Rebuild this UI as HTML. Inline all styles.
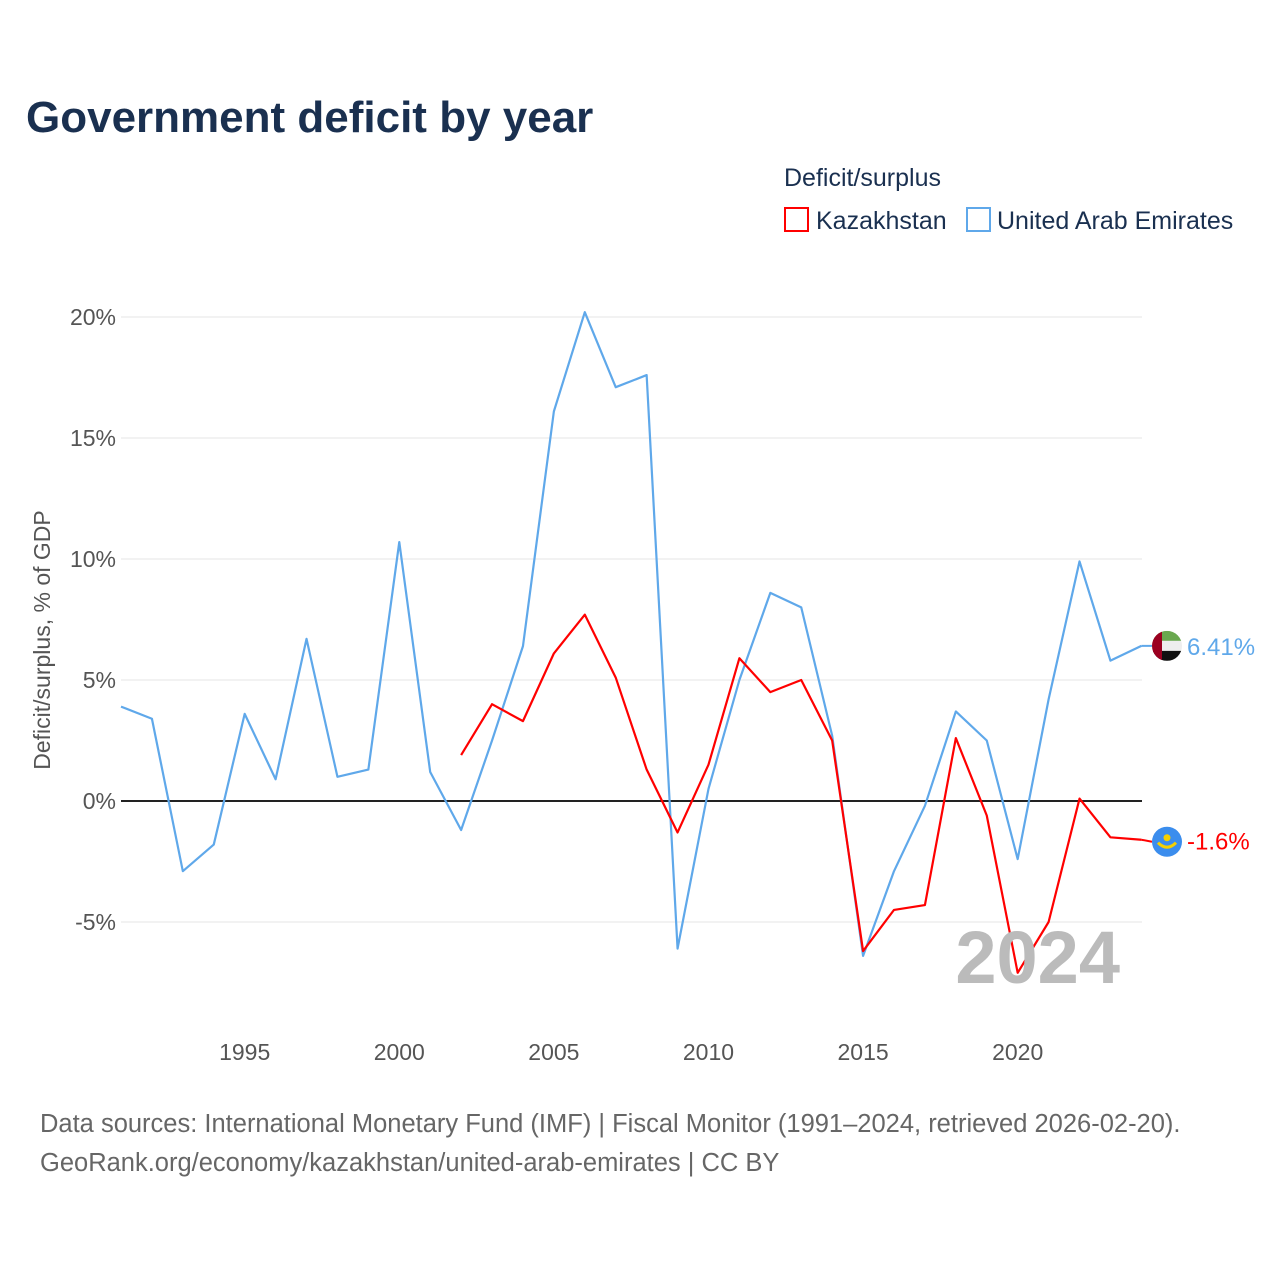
<!DOCTYPE html>
<html><head><meta charset="utf-8"><style>
body{margin:0;background:#fff;font-family:"Liberation Sans",sans-serif;}
</style></head><body>
<svg id="c" width="1280" height="1280" xmlns="http://www.w3.org/2000/svg">
<text x="26" y="132" font-size="44" font-weight="bold" fill="#1a3050">Government deficit by year</text>
<text x="784" y="186" font-size="25" fill="#1a3050">Deficit/surplus</text>
<g><rect x="785" y="208" width="23" height="23" fill="none" stroke="#ff0000" stroke-width="2"/><text x="816" y="229" font-size="25" fill="#1a3050">Kazakhstan</text></g>
<g><rect x="967" y="208" width="23" height="23" fill="none" stroke="#5fa8ea" stroke-width="2"/><text x="997" y="229" font-size="25" fill="#1a3050">United Arab Emirates</text></g>
<text transform="translate(50,640) rotate(-90)" text-anchor="middle" font-size="23" fill="#555">Deficit/surplus, % of GDP</text>
<g id="grid"></g><g id="series"></g>
<text x="1120" y="983" text-anchor="end" font-size="74" font-weight="bold" fill="#bbb">2024</text>
<text x="40" y="1132" font-size="25.5" fill="#666">Data sources: International Monetary Fund (IMF) | Fiscal Monitor (1991–2024, retrieved 2026-02-20).</text>
<text x="40" y="1171" font-size="25.5" fill="#666">GeoRank.org/economy/kazakhstan/united-arab-emirates | CC BY</text>
</svg>
<script>
const yTicks=[-5,0,5,10,15,20];
const xTicks=[1995,2000,2005,2010,2015,2020];
const uaeYears=[1991,1992,1993,1994,1995,1996,1997,1998,1999,2000,2001,2002,2003,2004,2005,2006,2007,2008,2009,2010,2011,2012,2013,2014,2015,2016,2017,2018,2019,2020,2021,2022,2023,2024];
const uaeValues=[3.9,3.4,-2.9,-1.8,3.6,0.9,6.7,1.0,1.3,10.7,1.2,-1.2,2.5,6.4,16.1,20.2,17.1,17.6,-6.1,0.5,5.0,8.6,8.0,2.7,-6.4,-2.9,-0.2,3.7,2.5,-2.4,4.2,9.9,5.8,6.41];
const kazYears=[2002,2003,2004,2005,2006,2007,2008,2009,2010,2011,2012,2013,2014,2015,2016,2017,2018,2019,2020,2021,2022,2023,2024];
const kazValues=[1.9,4.0,3.3,6.1,7.7,5.1,1.3,-1.3,1.5,5.9,4.5,5.0,2.5,-6.2,-4.5,-4.3,2.6,-0.6,-7.1,-5.0,0.1,-1.5,-1.6];
const NS="http://www.w3.org/2000/svg";
const x=yr=>121+(yr-1991)*30.92;
const y=v=>801-v*24.2;
function mk(t,a,p){const e=document.createElementNS(NS,t);for(const k in a)e.setAttribute(k,a[k]);p.appendChild(e);return e;}
const grid=document.getElementById('grid'),ser=document.getElementById('series');
yTicks.forEach(v=>{
 const l=mk('line',{x1:121,x2:1142,y1:y(v),y2:y(v),stroke:v===0?'#222':'#e6e6e6','stroke-width':v===0?2:1},grid);
 
 
 const t=mk('text',{x:116,y:y(v)+8,'text-anchor':'end','font-size':23,fill:'#555'},grid);
 t.textContent=v+'%';
 
 
});
xTicks.forEach(yr=>{
 const t=mk('text',{x:x(yr),y:1060,'text-anchor':'middle','font-size':23,fill:'#555'},grid);
 t.textContent=yr;
 
 
});
function line(ys,vs,col,name){
 const p=mk('polyline',{points:ys.map((yr,i)=>x(yr)+','+y(vs[i])).join(' '),fill:'none',stroke:col,'stroke-width':2.2,'stroke-linejoin':'round'},ser);
 
 
}
line(uaeYears,uaeValues,'#5fa8ea','uae-line');
line(kazYears,kazValues,'#ff0000','kazakhstan-line');
const uv=uaeValues[uaeValues.length-1],kv=kazValues[kazValues.length-1];
const ul=mk('g',{},ser);


mk('line',{x1:x(2024),x2:1152,y1:y(uv),y2:y(uv),stroke:'#5fa8ea','stroke-width':2},ul);
const cy1=y(uv);
mk('rect',{x:1152,y:cy1-15,width:30,height:10,fill:'#6aa84f'},ul);
mk('rect',{x:1152,y:cy1-5,width:30,height:10,fill:'#eee'},ul);
mk('rect',{x:1152,y:cy1+5,width:30,height:10,fill:'#111'},ul);
mk('rect',{x:1152,y:cy1-15,width:10,height:30,fill:'#9b0020'},ul);
const t1=mk('text',{x:1187,y:cy1+9,'font-size':24,fill:'#5fa8ea'},ul);t1.textContent=uv+'%';
const kl=mk('g',{},ser);


const cy2=y(kv)+2;
mk('line',{x1:x(2024),x2:1152,y1:y(kv),y2:cy2,stroke:'#ff0000','stroke-width':2},kl);
mk('circle',{cx:1167,cy:cy2,r:15,fill:'#3b8ded'},kl);
mk('path',{d:`M1158 ${cy2+1} Q1167 ${cy2+10} 1176 ${cy2+1}`,stroke:'#f5d000','stroke-width':3,fill:'none'},kl);
mk('circle',{cx:1167,cy:cy2-4,r:3.5,fill:'#f5d000'},kl);
const t2=mk('text',{x:1187,y:cy2+8,'font-size':24,fill:'#ff0000'},kl);t2.textContent=kv+'%';
const defs=mk('defs',{},document.getElementById('c'));
const cp=mk('clipPath',{id:'fc'},defs);mk('circle',{cx:1167,cy:cy1,r:15},cp);
ul.querySelectorAll('rect').forEach(r=>r.setAttribute('clip-path','url(#fc)'));
</script>
</body></html>
